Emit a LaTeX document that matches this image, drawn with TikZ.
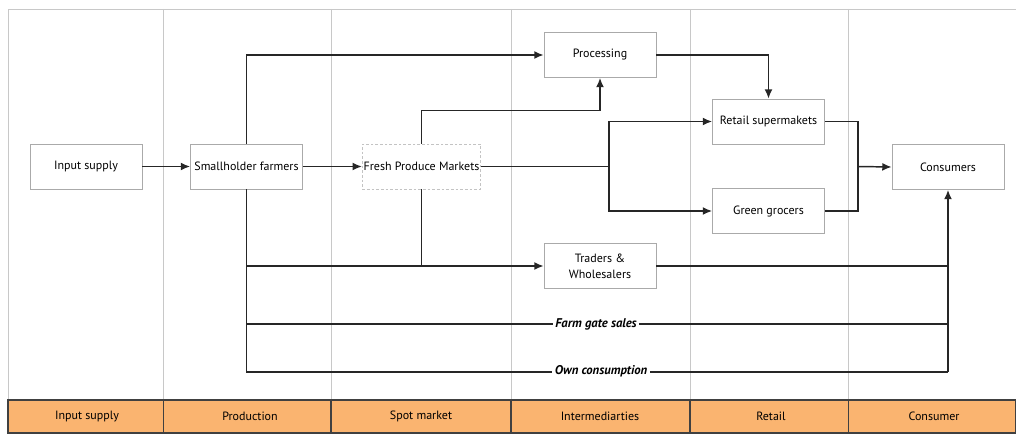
\documentclass[tikz,border=0pt]{standalone}
\usepackage{fontspec}
\setmainfont{PT Sans}
\usetikzlibrary{arrows.meta}
\definecolor{bandorange}{RGB}{250,180,112}
\definecolor{boxgray}{RGB}{170,170,170}
\definecolor{colgray}{RGB}{200,200,200}
\tikzset{
  stage/.style={draw=boxgray, fill=white, line width=0.6pt, minimum width=84pt, minimum height=33.75pt, inner sep=1pt, align=center, font=\fontsize{9}{12}\selectfont},
  link/.style={draw=black!85, line width=1.1pt},
  flow/.style={link, -{Latex[length=7pt,width=6pt]}},
  colline/.style={draw=colgray, line width=0.6pt},
  bandcell/.style={draw=black!75, fill=bandorange, line width=0.8pt},
  bandtext/.style={font=\fontsize{9}{10}\selectfont},
  routetext/.style={fill=white, inner sep=2pt, font=\fontsize{9.5}{10}\selectfont\bfseries\itshape}
}

\begin{document}
\begin{tikzpicture}[x=0.75pt,y=0.75pt,yscale=-1,xscale=1]
\useasboundingbox (0,0) rectangle (1016,435);

% frame and column lines
\draw[colline] (8,400) -- (8,9) -- (1016,9);
\draw[colline] (163.5,9) -- (163.5,400);
\draw[colline] (331,9) -- (331,400);
\draw[colline] (511,9) -- (511,400);
\draw[colline] (690,9) -- (690,400);
\draw[colline] (848.5,9) -- (848.5,400);

% stage band
\draw[bandcell] (8,400) rectangle (163.5,433);
\draw[bandcell] (163.5,400) rectangle (331,433);
\draw[bandcell] (331,400) rectangle (511,433);
\draw[bandcell] (511,400) rectangle (690,433);
\draw[bandcell] (690,400) rectangle (848.5,433);
\draw[bandcell] (848.5,400) rectangle (1016,433);
\node[bandtext] (lblinput) at (87,416.5) {Input supply};
\node[bandtext] (lblprod) at (250,416.5) {Production};
\node[bandtext] (lblspot) at (421,416) {Spot market};
\node[bandtext] (lblinter) at (600,416.5) {Intermediarties};
\node[bandtext] (lblretail) at (771,416) {Retail};
\node[bandtext] (lblcons) at (934,416.5) {Consumer};

% chain nodes
\node[stage] (input) at (86,166.5) {Input supply};
\node[stage] (farmers) at (246.5,166.5) {Smallholder farmers};
\node[stage, draw=boxgray!70, dash pattern=on 2pt off 1.5pt] (fresh) at (421.5,166.5) {Fresh Produce Markets};
\node[stage] (proc) at (600,55) {Processing};
\node[stage] (super) at (768.5,121.5) {Retail supermakets};
\node[stage] (green) at (768.5,211) {Green grocers};
\node[stage] (cons) at (948,167) {Consumers};
\node[stage] (traders) at (600,266) {Traders \&\\Wholesalers};

\coordinate (split) at (609,166.5);
\coordinate (merge) at (858,166.5);
\coordinate (gateend) at (948,324);
\coordinate (ownend) at (948,372);

% connectors
\draw[flow] (input) -- (farmers);
\draw[flow] (farmers) -- (fresh);
\draw[flow] (farmers.north) |- (proc.west);
\draw[flow] (fresh.north) -- ++(0,-33) -| (proc.south);
\draw[link] (fresh.east) -- (split);
\draw[flow] (split) |- (super.west);
\draw[flow] (split) |- (green.west);
\draw[flow] (proc.east) -| (super.north);
\draw[link] (super.east) -| (merge);
\draw[link] (green.east) -| (merge);
\draw[flow] (merge) -- (cons.west);
\draw[flow] (farmers.south) |- (traders.west);
\draw[link] (fresh.south) -- (fresh.south |- traders.west);
\draw[link] (traders.east) -- (traders.east -| cons.south);
\draw[link] (farmers.south) |- (gateend);
\draw[link] (farmers.south) |- (ownend);
\draw[flow] (ownend) -- (cons.south);

% route labels
\node[routetext] (gate) at (596,324) {Farm gate sales};
\node[routetext] (own) at (601,371) {Own consumption};

\end{tikzpicture}
\end{document}
